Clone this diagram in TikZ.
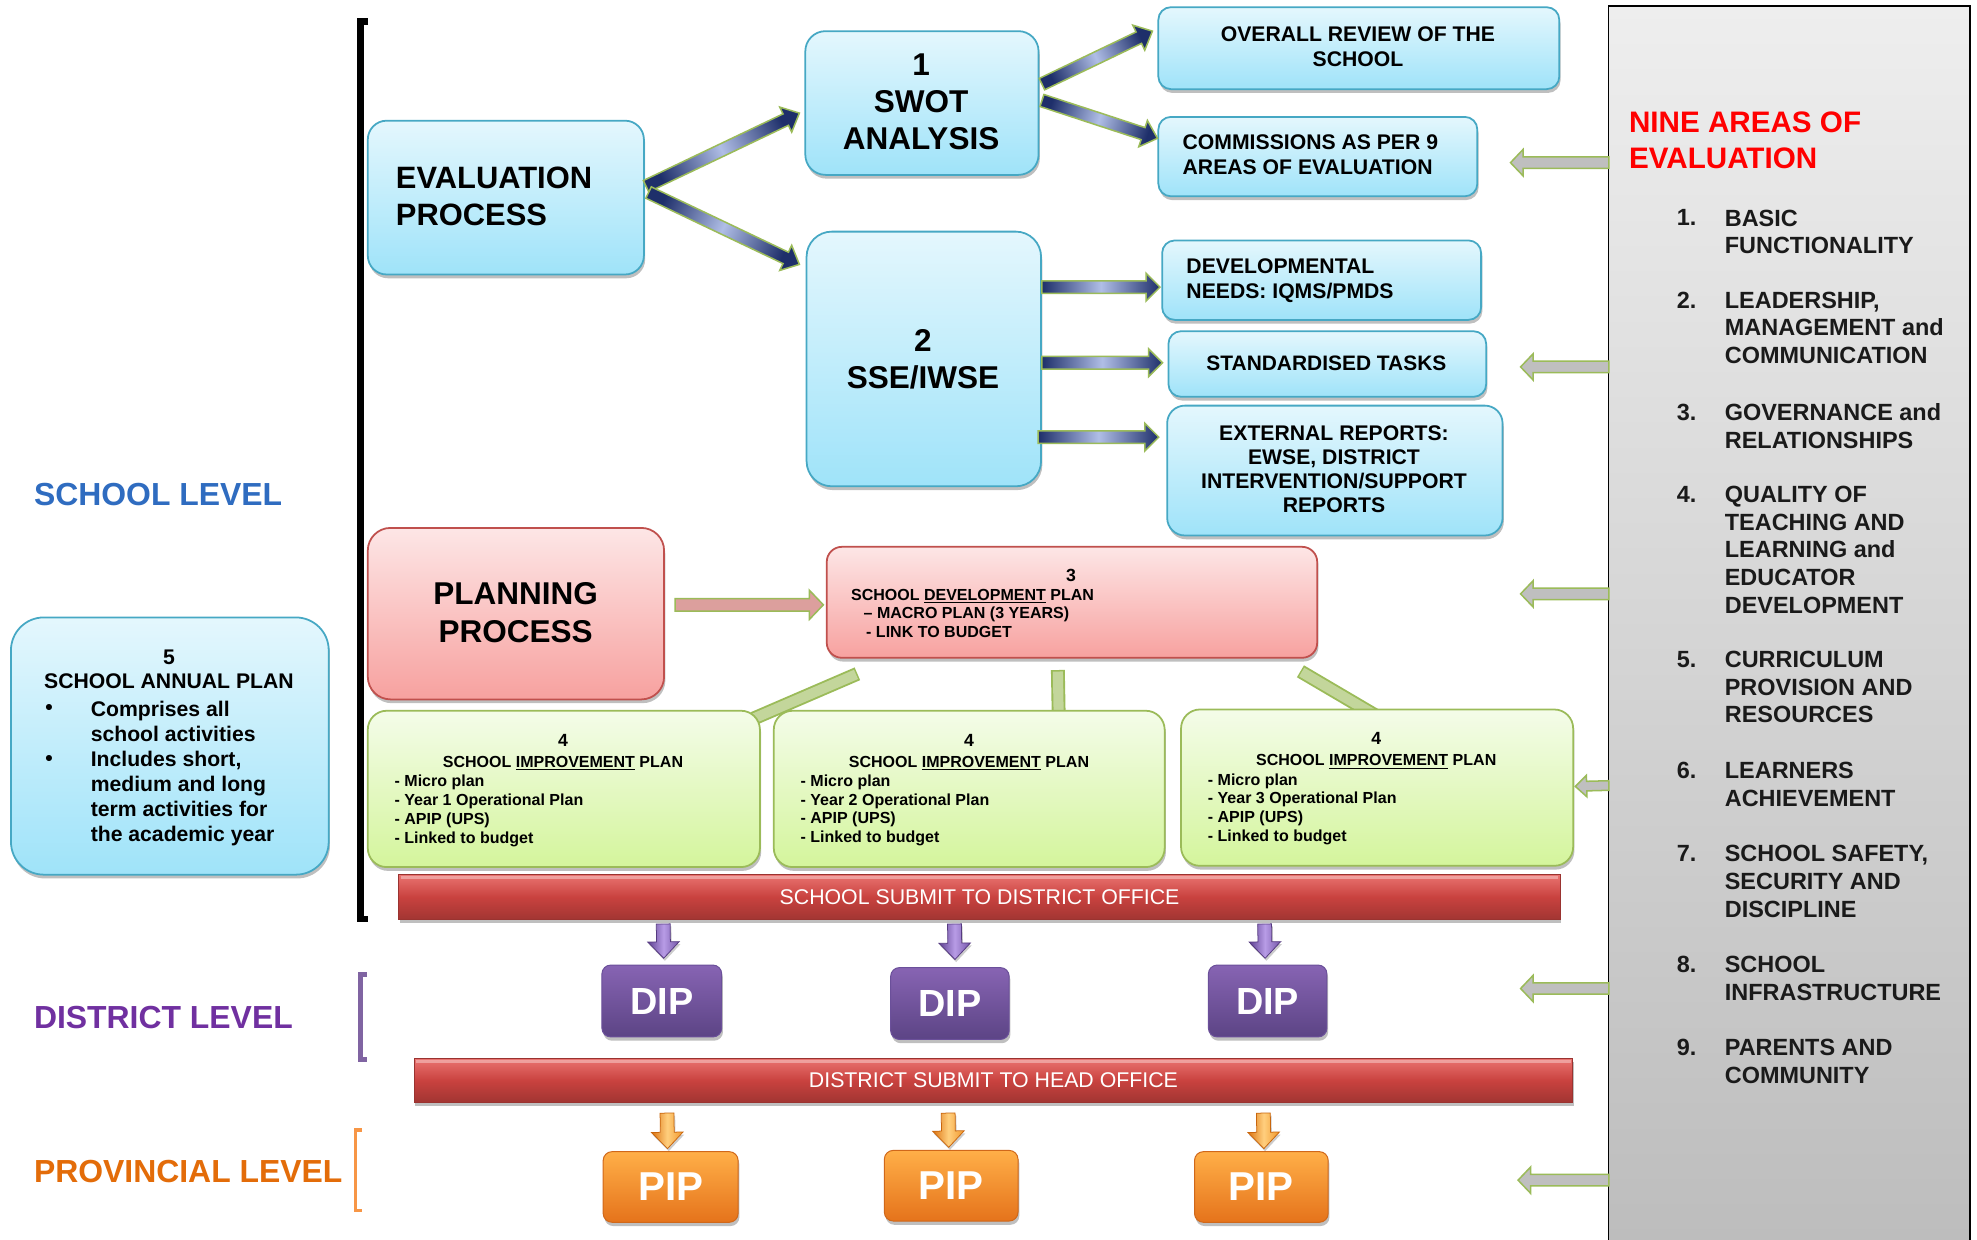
\documentclass[tikz,border=0pt]{standalone}
\usepackage{fontspec}
\setmainfont{Liberation Sans}
\usetikzlibrary{calc,shadows}
\definecolor{bluebd}{HTML}{46A8C4}
\definecolor{bluetop}{HTML}{E4F7FD}
\definecolor{bluebot}{HTML}{9FE3F9}
\definecolor{redbd}{HTML}{C0504D}
\definecolor{redtop}{HTML}{FDE6E6}
\definecolor{redbot}{HTML}{F7A19F}
\definecolor{grnbd}{HTML}{9BBB59}
\definecolor{grntop}{HTML}{F4FCE9}
\definecolor{grnbot}{HTML}{D4F59C}
\definecolor{grnband}{HTML}{C3D69B}
\definecolor{navy}{HTML}{1E2F6A}
\definecolor{peri}{HTML}{B0BEE6}
\definecolor{diptop}{HTML}{8764B3}
\definecolor{dipbot}{HTML}{5C4485}
\definecolor{dipbd}{HTML}{6B509A}
\definecolor{piptop}{HTML}{FFAF48}
\definecolor{pipbot}{HTML}{E5731B}
\definecolor{pipbd}{HTML}{D0681A}
\definecolor{bartop}{HTML}{EA7471}
\definecolor{barmid}{HTML}{C9423F}
\definecolor{barbot}{HTML}{A13532}
\definecolor{barbd}{HTML}{9A3330}
\definecolor{arrgray}{HTML}{BFBFBF}
\definecolor{purpdk}{HTML}{5E4191}
\definecolor{purpdr}{HTML}{7456A8}
\definecolor{purplt}{HTML}{B89CE6}
\definecolor{purpbd}{HTML}{553A80}
\definecolor{orgdk}{HTML}{DC7412}
\definecolor{orgdr}{HTML}{F0962A}
\definecolor{orglt}{HTML}{FFCF7E}
\definecolor{orgbd}{HTML}{C8660E}
\definecolor{lvlblue}{HTML}{2F6CC0}
\definecolor{lvlpurp}{HTML}{7030A0}
\definecolor{lvlorg}{HTML}{E36C09}
\definecolor{brpurp}{HTML}{8064A2}
\definecolor{brorg}{HTML}{F79646}
\definecolor{paneltop}{HTML}{EEEEEE}
\definecolor{panelbot}{HTML}{BCBCBC}
\definecolor{listtxt}{HTML}{1A1A1A}

\newcommand\bfs[2]{\bfseries\fontsize{#1pt}{#2pt}\selectfont}
\newcommand\rfs[2]{\mdseries\fontsize{#1pt}{#2pt}\selectfont}
\newcommand\bx[6]{\node[#2, anchor=north west, inner sep=0pt, minimum width={(#5-#3)*1pt}, minimum height={(#6-#4)*1pt}] (#1) at (#3,#4) {};}
% style, start, end, half shaft, half head, head length
\newcommand\fatarr[6]{%
 \coordinate (fahb) at ($(#3)!#6!(#2)$);
 \path[#1] ($(#2)!#4!90:(#3)$) -- ($(fahb)!#4!90:(#3)$) -- ($(fahb)!#5!90:(#3)$) -- (#3) -- ($(fahb)!#5!-90:(#3)$) -- ($(fahb)!#4!-90:(#3)$) -- ($(#2)!#4!-90:(#3)$) -- cycle;}

\pgfdeclarelayer{bg}
\pgfsetlayers{bg,main}

\begin{document}
\begin{tikzpicture}[x=1pt,y=-1pt,
 shadowed/.style={drop shadow={shadow xshift=1pt,shadow yshift=-3pt,opacity=0.25,fill=black}},
 bluebox/.style={rounded corners=#1, draw=bluebd, line width=1.4pt, top color=bluetop, bottom color=bluebot, shadowed},
 redbox/.style={rounded corners=#1, draw=redbd, line width=1.4pt, top color=redtop, bottom color=redbot, shadowed},
 grnbox/.style={rounded corners=#1, draw=grnbd, line width=1.4pt, top color=grntop, bottom color=grnbot, shadowed},
 dipbox/.style={rounded corners=7pt, draw=dipbd, line width=0.8pt, top color=diptop, bottom color=dipbot, shadowed},
 pipbox/.style={rounded corners=7pt, draw=pipbd, line width=0.8pt, top color=piptop, bottom color=pipbot, shadowed},
 barbox/.style={draw=barbd, line width=0.8pt, top color=bartop, bottom color=barbot, middle color=barmid, shadowed},
 txt/.style={inner sep=0pt, outer sep=0pt},
 barrow/.style={draw=grnbd, line width=1.2pt, left color=navy, right color=navy, middle color=peri},
 garrow/.style={draw=grnbd, line width=1.2pt, fill=arrgray},
 parrow/.style={draw=purpbd, line width=0.6pt, left color=purpdk, right color=purpdr, middle color=purplt, drop shadow={shadow xshift=1pt,shadow yshift=-2pt,opacity=0.2,fill=black}},
 oarrow/.style={draw=orgbd, line width=0.6pt, left color=orgdk, right color=orgdr, middle color=orglt, drop shadow={shadow xshift=1pt,shadow yshift=-2pt,opacity=0.2,fill=black}},
 pinkarrow/.style={draw=grnbd, line width=1.2pt, fill=redbd!55!white},
 bandout/.style={draw=grnbd, line width=11pt},
 bandin/.style={draw=grnband, line width=8pt}
]
\useasboundingbox (0,0) rectangle (1568,983);

% ---------- boxes ----------
\bx{eval}{bluebox=15pt}{291}{95}{510}{217}
\bx{swot}{bluebox=16pt}{638}{24}{823}{138}
\bx{sse}{bluebox=20pt}{639}{183}{825}{385}
\bx{overall}{bluebox=10pt}{918}{5}{1236}{70}
\bx{comm}{bluebox=10pt}{918}{92}{1171}{155}
\bx{dev}{bluebox=10pt}{921}{190}{1174}{253}
\bx{std}{bluebox=10pt}{926}{262}{1178}{314}
\bx{ext}{bluebox=14pt}{925}{321}{1191}{424}
\bx{plan}{redbox=18pt}{291}{418}{526}{554}
\bx{sdp}{redbox=12pt}{655}{433}{1044}{521}
\bx{sipa}{grnbox=15pt}{291}{563}{602}{687}
\bx{sipb}{grnbox=15pt}{613}{563}{923}{687}
\bx{sipc}{grnbox=15pt}{936}{562}{1247}{686}
\bx{sap}{bluebox=26pt}{8}{489}{260}{693}
\bx{barone}{barbox}{316}{693}{1237}{729}
\bx{bartwo}{barbox}{328}{839}{1247}{874}
\bx{dipa}{dipbox}{477}{765}{572}{822}
\bx{dipb}{dipbox}{706}{767}{800}{824}
\bx{dipc}{dipbox}{958}{765}{1052}{822}
\bx{pipa}{pipbox}{478}{913}{585}{969}
\bx{pipb}{pipbox}{701}{912}{807}{968}
\bx{pipc}{pipbox}{947}{913}{1053}{969}
\node[anchor=north west, inner sep=0pt, minimum width=287pt, minimum height=1000pt, draw=black, line width=1.5pt, top color=paneltop, bottom color=panelbot] (panel) at (1275,4) {};

% bar highlights
\draw[white, opacity=0.35, line width=2pt] ($(barone.north west)+(2,3)$) -- ($(barone.north east)+(-2,3)$);
\draw[white, opacity=0.35, line width=2pt] ($(bartwo.north west)+(2,3)$) -- ($(bartwo.north east)+(-2,3)$);

% ---------- green bands (behind) ----------
\begin{pgfonlayer}{bg}
\fill[white] (0,0) rectangle (1568,983);
\coordinate (bla) at ($(sdp.south west)+(25,12)$);
\coordinate (blb) at ($(sipa.north east)+(-6,7)$);
\coordinate (bva) at ($(sdp.south west)+(184,9)$);
\coordinate (bvb) at ($(sipb.north)+(71,6)$);
\coordinate (bra) at ($(sdp.south east)+(-14,10)$);
\coordinate (brb) at ($(sipc.north)+(-2,5)$);
\draw[bandout] (bla) -- (blb);
\draw[bandout] (bva) -- (bvb);
\draw[bandout] (bra) -- (brb);
\draw[bandin] ($(bla)!1.2pt!(blb)$) -- (blb);
\draw[bandin] ($(bva)!1.2pt!(bvb)$) -- (bvb);
\draw[bandin] ($(bra)!1.2pt!(brb)$) -- (brb);
\end{pgfonlayer}

% ---------- blue arrows ----------
\coordinate (aos) at ($(eval.east)+(1,-9)$);
\coordinate (aoe) at ($(swot.west)+(-4,8)$);
\coordinate (ats) at ($(eval.east)+(3,-4)$);
\coordinate (ate) at ($(sse.west)+(-5,-75)$);
\coordinate (ahs) at ($(swot.east)+(2,-15)$);
\coordinate (ahe) at ($(overall.west)+(-4,-13.5)$);
\coordinate (afs) at ($(swot.east)+(2,-2)$);
\coordinate (afe) at ($(comm.west)+(0,-14.5)$);
\coordinate (avs) at ($(sse.east)+(0,-57)$);
\coordinate (ave) at ($(dev.west)+(-1,5.5)$);
\coordinate (ass) at ($(sse.east)+(0,3)$);
\coordinate (ase) at ($(std.west)+(-4,-1)$);
\coordinate (aes) at ($(sse.east)+(-3,62)$);
\coordinate (aee) at ($(ext.west)+(-6,-26.5)$);
\fatarr{barrow, shading angle=115}{aos}{aoe}{5pt}{11pt}{12pt}
\fatarr{barrow, shading angle=65}{ats}{ate}{5pt}{11pt}{12pt}
\fatarr{barrow, shading angle=115}{ahs}{ahe}{5pt}{11pt}{12pt}
\fatarr{barrow, shading angle=72}{afs}{afe}{5pt}{11pt}{12pt}
\fatarr{barrow}{avs}{ave}{5pt}{11pt}{11pt}
\fatarr{barrow}{ass}{ase}{5pt}{11pt}{11pt}
\fatarr{barrow}{aes}{aee}{5pt}{11pt}{11pt}

% planning arrow
\coordinate (pls) at ($(plan.east)+(8,-7)$);
\coordinate (ple) at ($(sdp.west)+(-2,2)$);
\fatarr{pinkarrow}{pls}{ple}{5pt}{11.5pt}{11pt}

% gray arrows from panel
\coordinate (gas) at ($(panel.north west)+(1,125)$);
\coordinate (gae) at (1198,129);
\coordinate (gbs) at ($(panel.north west)+(1,287)$);
\coordinate (gbe) at (1206,291);
\coordinate (gcs) at ($(panel.north west)+(1,467)$);
\coordinate (gce) at (1206,471);
\coordinate (gds) at ($(panel.north west)+(1,619)$);
\coordinate (gde) at ($(sipc.east)+(1,-1)$);
\coordinate (ges) at ($(panel.north west)+(1,780)$);
\coordinate (gee) at (1206,784);
\coordinate (gfs) at ($(panel.north west)+(1,932)$);
\coordinate (gfe) at (1204,936);
\fatarr{garrow}{gas}{gae}{4.5pt}{10.5pt}{10pt}
\fatarr{garrow}{gbs}{gbe}{4.5pt}{10.5pt}{10pt}
\fatarr{garrow}{gcs}{gce}{4.5pt}{10.5pt}{10pt}
\fatarr{garrow}{gds}{gde}{3.8pt}{8.5pt}{9pt}
\fatarr{garrow}{ges}{gee}{4.5pt}{10.5pt}{10pt}
\fatarr{garrow}{gfs}{gfe}{4.5pt}{10.5pt}{10pt}

% purple and orange down arrows
\coordinate (das) at ($(barone.south west)+(210,3)$);
\coordinate (dae) at ($(dipa.north)+(1.5,-5)$);
\coordinate (dbs) at ($(barone.south west)+(441,3)$);
\coordinate (dbe) at ($(dipb.north)+(4,-6)$);
\coordinate (dcs) at ($(barone.south west)+(687,3)$);
\coordinate (dce) at ($(dipc.north)+(-2,-5)$);
\fatarr{parrow}{das}{dae}{5.5pt}{12.5pt}{13pt}
\fatarr{parrow}{dbs}{dbe}{5.5pt}{12.5pt}{13pt}
\fatarr{parrow}{dcs}{dce}{5.5pt}{12.5pt}{13pt}
\coordinate (pas) at ($(bartwo.south west)+(201,8)$);
\coordinate (pae) at ($(pipa.north)+(-2.5,-2)$);
\coordinate (pbs) at ($(bartwo.south west)+(424,8)$);
\coordinate (pbe) at ($(pipb.north)+(-2,-2)$);
\coordinate (pcs) at ($(bartwo.south west)+(674,8)$);
\coordinate (pce) at ($(pipc.north)+(2,-2)$);
\fatarr{oarrow}{pas}{pae}{5.5pt}{12.5pt}{13pt}
\fatarr{oarrow}{pbs}{pbe}{5.5pt}{12.5pt}{13pt}
\fatarr{oarrow}{pcs}{pce}{5.5pt}{12.5pt}{13pt}

% ---------- brackets ----------
\draw[line width=5pt] (292,17) -- (286,17) -- (286,729) -- (292,729);
\draw[brpurp, line width=4pt] (291,773) -- (286,773) -- (286,840) -- (291,840);
\draw[brorg, line width=3pt] (287,896) -- (282,896) -- (282,960) -- (287,960);

% ---------- texts ----------
\node[txt, anchor=north west, align=left, font=\bfs{24.5}{30}] (evalt) at (314,132) {EVALUATION\\PROCESS};
\node[txt, anchor=north, align=center, font=\bfs{25}{29}] (swott) at (730.5,43) {1\\SWOT\\ANALYSIS};
\node[txt, anchor=north, align=center, font=\bfs{25}{30}] (sset) at (732,261) {2\\SSE/IWSE};
\node[txt, anchor=north, align=center, font=\bfs{16.8}{20}] (overallt) at (1077,21) {OVERALL REVIEW OF THE\\SCHOOL};
\node[txt, anchor=north west, align=left, font=\bfs{16.8}{19.5}] (commt) at (938,107) {COMMISSIONS AS PER 9\\AREAS OF EVALUATION};
\node[txt, anchor=north west, align=left, font=\bfs{16.8}{20}] (devt) at (941,205) {DEVELOPMENTAL\\NEEDS: IQMS/PMDS};
\node[txt, font=\bfs{16.6}{20}] (stdt) at (1052,288) {STANDARDISED TASKS};
\node[txt, anchor=north, align=center, font=\bfs{16.8}{19}] (extt) at (1058,338) {EXTERNAL REPORTS:\\EWSE, DISTRICT\\INTERVENTION/SUPPORT\\REPORTS};
\node[txt, anchor=north, align=center, font=\bfs{25}{30}] (plant) at (409,462) {PLANNING\\PROCESS};
\node[txt, font=\bfs{14}{16}] (sdpn) at (849.5,456) {3};
\node[txt, anchor=north west, align=left, font=\bfs{12.7}{14.5}] (sdpt) at (675,467.5) {SCHOOL \underline{DEVELOPMENT} PLAN\\\hspace*{10pt}– MACRO PLAN (3 YEARS)\\\hspace*{12pt}- LINK TO BUDGET};

\node[txt, font=\bfs{14}{16}] (sipan) at (446.5,587) {4};
\node[txt, anchor=base, font=\bfs{12.7}{15}] (sipat) at (446.5,608.5) {SCHOOL \underline{IMPROVEMENT} PLAN};
\node[txt, anchor=north west, align=left, font=\bfs{12.7}{15}] (sipal) at (313,614.5) {- Micro plan\\- Year 1 Operational Plan\\- APIP (UPS)\\- Linked to budget};
\node[txt, font=\bfs{14}{16}] (sipbn) at (768.5,587) {4};
\node[txt, anchor=base, font=\bfs{12.7}{15}] (sipbt) at (768.5,608.5) {SCHOOL \underline{IMPROVEMENT} PLAN};
\node[txt, anchor=north west, align=left, font=\bfs{12.7}{14.8}] (sipbl) at (635,614.5) {- Micro plan\\- Year 2 Operational Plan\\- APIP (UPS)\\- Linked to budget};
\node[txt, font=\bfs{14}{16}] (sipcn) at (1091.5,586) {4};
\node[txt, anchor=base, font=\bfs{12.7}{15}] (sipct) at (1091.5,607.5) {SCHOOL \underline{IMPROVEMENT} PLAN};
\node[txt, anchor=north west, align=left, font=\bfs{12.7}{14.8}] (sipcl) at (958,613.5) {- Micro plan\\- Year 3 Operational Plan\\- APIP (UPS)\\- Linked to budget};

\node[txt, font=\bfs{16.8}{20}] (sapn) at (134,521) {5};
\node[txt, font=\bfs{16.8}{20}] (sapt) at (134,540) {SCHOOL ANNUAL PLAN};
\node[txt, font=\bfs{16.8}{20}] (sapba) at (39,563) {•};
\node[txt, font=\bfs{16.8}{20}] (sapbb) at (39,603) {•};
\node[txt, anchor=north west, align=left, font=\bfs{16.8}{19.8}] (sapl) at (72,556) {Comprises all\\school activities\\Includes short,\\medium and long\\term activities for\\the academic year};

\node[txt, text=white, font=\rfs{16.9}{20}] (baronet) at (barone.center) {SCHOOL SUBMIT TO DISTRICT OFFICE};
\node[txt, text=white, font=\rfs{16.9}{20}] (bartwot) at (bartwo.center) {DISTRICT SUBMIT TO HEAD OFFICE};
\node[txt, text=white, font=\bfs{30}{32}] (dipat) at (dipa.center) {DIP};
\node[txt, text=white, font=\bfs{30}{32}] (dipbt) at (dipb.center) {DIP};
\node[txt, text=white, font=\bfs{30}{32}] (dipct) at (dipc.center) {DIP};
\node[txt, text=white, font=\bfs{32}{34}] (pipat) at (pipa.center) {PIP};
\node[txt, text=white, font=\bfs{32}{34}] (pipbt) at (pipb.center) {PIP};
\node[txt, text=white, font=\bfs{32}{34}] (pipct) at (pipc.center) {PIP};

\node[txt, anchor=west, text=lvlblue, font=\bfs{25.3}{30}] (lvlschool) at (27,392) {SCHOOL LEVEL};
\node[txt, anchor=west, text=lvlpurp, font=\bfs{25.3}{30}] (lvldistrict) at (27,807) {DISTRICT LEVEL};
\node[txt, anchor=west, text=lvlorg, font=\bfs{25.3}{30}] (lvlprov) at (27,929) {PROVINCIAL LEVEL};

% nine areas
\node[txt, anchor=north west, align=left, text=red, font=\bfs{23.5}{29}] (ninet) at (1292,88.6) {NINE AREAS OF\\EVALUATION};
\tikzset{numt/.style={txt, anchor=north west, text=listtxt, font=\bfs{18.6}{22}}, itemt/.style={txt, anchor=north west, align=left, text=listtxt, font=\bfs{18.6}{22}}}
\node[numt] (na) at (1330,166.4) {1.};
\node[itemt] (ia) at (1368,166.4) {BASIC\\FUNCTIONALITY};
\node[numt] (nb) at (1330,231.4) {2.};
\node[itemt] (ib) at (1368,231.4) {LEADERSHIP,\\MANAGEMENT and\\COMMUNICATION};
\node[numt] (nc) at (1330,320.4) {3.};
\node[itemt] (ic) at (1368,320.4) {GOVERNANCE and\\RELATIONSHIPS};
\node[numt] (nd) at (1330,385.4) {4.};
\node[itemt] (id) at (1368,385.4) {QUALITY OF\\TEACHING AND\\LEARNING and\\EDUCATOR\\DEVELOPMENT};
\node[numt] (ne) at (1330,516.4) {5.};
\node[itemt] (ie) at (1368,516.4) {CURRICULUM\\PROVISION AND\\RESOURCES};
\node[numt] (nf) at (1330,604.4) {6.};
\node[itemt] (if) at (1368,604.4) {LEARNERS\\ACHIEVEMENT};
\node[numt] (ng) at (1330,670.4) {7.};
\node[itemt] (ig) at (1368,670.4) {SCHOOL SAFETY,\\SECURITY AND\\DISCIPLINE};
\node[numt] (nh) at (1330,758.4) {8.};
\node[itemt] (ih) at (1368,758.4) {SCHOOL\\INFRASTRUCTURE};
\node[numt] (ni) at (1330,824.4) {9.};
\node[itemt] (ii) at (1368,824.4) {PARENTS AND\\COMMUNITY};
\end{tikzpicture}
\end{document}
